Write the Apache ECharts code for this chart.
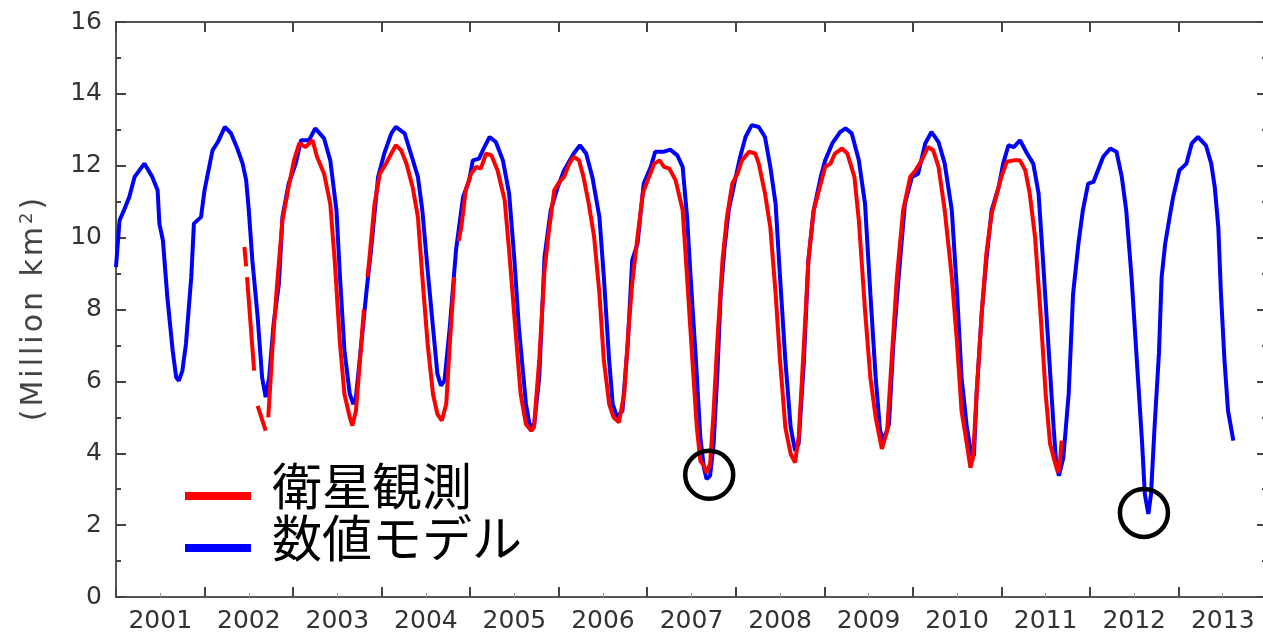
<!DOCTYPE html>
<html>
<head>
<meta charset="utf-8">
<title>海氷面積</title>
<script src="https://cdn.jsdelivr.net/npm/echarts@6/dist/echarts.min.js"></script>
<style>
  html, body { margin: 0; padding: 0; background: #fff; }
  #chart { width: 1263px; height: 636px; }
</style>
</head>
<body>
<div id="chart"></div>
<script>
// 数値モデル (blue)
const modelT = [
  2001.00, 2001.04, 2001.09, 2001.15, 2001.21, 2001.32, 2001.41, 2001.47, 2001.49, 2001.53,
  2001.58, 2001.64, 2001.68, 2001.71, 2001.75, 2001.79, 2001.85, 2001.88, 2001.96, 2002.00,
  2002.03, 2002.09, 2002.15, 2002.23, 2002.30, 2002.37, 2002.43, 2002.47, 2002.50, 2002.54,
  2002.60, 2002.65, 2002.69, 2002.73, 2002.78, 2002.84, 2002.88, 2002.95, 2003.03, 2003.09,
  2003.18, 2003.25, 2003.35, 2003.42, 2003.49, 2003.53, 2003.58, 2003.64, 2003.68, 2003.71,
  2003.77, 2003.83, 2003.88, 2003.96, 2004.03, 2004.11, 2004.16, 2004.26, 2004.33, 2004.41,
  2004.46, 2004.52, 2004.58, 2004.63, 2004.67, 2004.71, 2004.77, 2004.84, 2004.92, 2004.99,
  2005.03, 2005.10, 2005.16, 2005.22, 2005.29, 2005.37, 2005.44, 2005.50, 2005.55, 2005.63,
  2005.67, 2005.72, 2005.78, 2005.84, 2005.91, 2005.99, 2006.06, 2006.17, 2006.24, 2006.31,
  2006.38, 2006.46, 2006.51, 2006.57, 2006.61, 2006.66, 2006.72, 2006.78, 2006.83, 2006.89,
  2006.96, 2007.04, 2007.09, 2007.19, 2007.26, 2007.34, 2007.40, 2007.45, 2007.49, 2007.55,
  2007.60, 2007.64, 2007.67, 2007.71, 2007.75, 2007.79, 2007.83, 2007.87, 2007.92, 2008.00,
  2008.05, 2008.11, 2008.18, 2008.26, 2008.33, 2008.39, 2008.45, 2008.50, 2008.56, 2008.62,
  2008.67, 2008.71, 2008.77, 2008.82, 2008.88, 2008.96, 2009.01, 2009.09, 2009.18, 2009.24,
  2009.31, 2009.39, 2009.46, 2009.52, 2009.58, 2009.63, 2009.67, 2009.73, 2009.78, 2009.84,
  2009.91, 2009.99, 2010.06, 2010.14, 2010.21, 2010.29, 2010.36, 2010.44, 2010.50, 2010.55,
  2010.61, 2010.66, 2010.69, 2010.72, 2010.78, 2010.83, 2010.89, 2010.97, 2011.02, 2011.08,
  2011.14, 2011.21, 2011.29, 2011.36, 2011.42, 2011.47, 2011.53, 2011.59, 2011.62, 2011.65,
  2011.70, 2011.76, 2011.81, 2011.87, 2011.92, 2011.98, 2012.04, 2012.09, 2012.15, 2012.23,
  2012.30, 2012.36, 2012.41, 2012.47, 2012.53, 2012.59, 2012.62, 2012.66, 2012.69, 2012.73,
  2012.78, 2012.81, 2012.85, 2012.90, 2012.94, 2013.01, 2013.09, 2013.15, 2013.22, 2013.31,
  2013.37, 2013.41, 2013.45, 2013.48, 2013.52, 2013.56, 2013.62
];
const modelV = [
  9.18, 10.48, 10.76, 11.13, 11.69, 12.06, 11.69, 11.32, 10.39, 9.92,
  8.34, 6.86, 6.11, 6.02, 6.30, 7.04, 8.90, 10.39, 10.57, 11.32,
  11.69, 12.43, 12.66, 13.08, 12.90, 12.48, 12.06, 11.60, 10.76, 9.37,
  7.79, 6.11, 5.56, 6.11, 7.60, 8.72, 10.57, 11.50, 12.06, 12.71,
  12.71, 13.04, 12.76, 12.15, 10.76, 8.90, 6.86, 5.65, 5.37, 5.56,
  7.04, 8.53, 9.64, 11.69, 12.34, 12.90, 13.08, 12.90, 12.34, 11.69,
  10.76, 9.09, 7.51, 6.21, 5.88, 6.02, 7.51, 9.64, 11.13, 11.60,
  12.15, 12.20, 12.52, 12.80, 12.66, 12.15, 11.23, 9.37, 7.51, 5.37,
  4.81, 4.72, 6.11, 9.46, 10.76, 11.41, 11.87, 12.34, 12.57, 12.34,
  11.69, 10.57, 8.90, 6.58, 5.37, 5.00, 5.18, 7.04, 9.37, 9.83,
  11.50, 11.97, 12.39, 12.39, 12.45, 12.29, 11.97, 10.57, 8.90, 6.58,
  4.44, 3.60, 3.28, 3.37, 4.26, 6.11, 8.44, 9.64, 10.76, 11.69,
  12.25, 12.80, 13.13, 13.08, 12.80, 11.97, 10.94, 8.90, 6.58, 4.72,
  4.07, 4.26, 6.58, 9.37, 10.76, 11.69, 12.15, 12.62, 12.94, 13.04,
  12.90, 12.15, 10.94, 8.44, 6.11, 4.63, 4.35, 4.81, 7.04, 8.90,
  10.94, 11.69, 11.78, 12.62, 12.94, 12.66, 12.06, 10.76, 8.44, 6.11,
  4.72, 3.98, 3.93, 5.65, 7.97, 9.37, 10.76, 11.41, 12.06, 12.57,
  12.52, 12.71, 12.34, 12.06, 11.23, 9.37, 7.04, 4.72, 3.70, 3.37,
  3.88, 5.65, 8.44, 9.83, 10.76, 11.50, 11.55, 11.87, 12.25, 12.48,
  12.39, 11.69, 10.76, 8.90, 6.58, 4.26, 2.86, 2.31, 2.86, 4.72,
  6.80, 8.90, 9.83, 10.57, 11.13, 11.87, 12.06, 12.62, 12.80, 12.57,
  12.06, 11.41, 10.29, 8.44, 6.58, 5.18, 4.35
];

// 衛星観測 (red), null = gap in the record
const obsT = [
  2002.45, 2002.47, 2002.475, 2002.48, 2002.56, 2002.58, 2002.60, 2002.69, 2002.705, 2002.72,
  2002.77, 2002.82, 2002.88, 2002.95, 2003.01, 2003.07, 2003.14, 2003.22, 2003.27, 2003.35,
  2003.42, 2003.47, 2003.53, 2003.58, 2003.64, 2003.67, 2003.71, 2003.77, 2003.80, 2003.82,
  2003.84, 2003.86, 2003.92, 2003.98, 2004.05, 2004.11, 2004.16, 2004.22, 2004.28, 2004.35,
  2004.41, 2004.46, 2004.52, 2004.58, 2004.63, 2004.68, 2004.73, 2004.77, 2004.82, 2004.845,
  2004.87, 2004.90, 2004.95, 2005.01, 2005.07, 2005.12, 2005.18, 2005.24, 2005.31, 2005.39,
  2005.44, 2005.50, 2005.57, 2005.63, 2005.69, 2005.72, 2005.78, 2005.84, 2005.89, 2005.95,
  2006.01, 2006.06, 2006.12, 2006.17, 2006.23, 2006.28, 2006.34, 2006.40, 2006.46, 2006.51,
  2006.57, 2006.62, 2006.68, 2006.74, 2006.79, 2006.83, 2006.89, 2006.95, 2007.02, 2007.08,
  2007.14, 2007.19, 2007.25, 2007.32, 2007.40, 2007.45, 2007.51, 2007.56, 2007.60, 2007.64,
  2007.67, 2007.71, 2007.75, 2007.79, 2007.85, 2007.90, 2007.96, 2008.02, 2008.07, 2008.15,
  2008.22, 2008.26, 2008.33, 2008.39, 2008.45, 2008.50, 2008.56, 2008.62, 2008.67, 2008.71,
  2008.77, 2008.82, 2008.88, 2008.94, 2009.01, 2009.07, 2009.12, 2009.20, 2009.26, 2009.34,
  2009.39, 2009.46, 2009.52, 2009.58, 2009.65, 2009.71, 2009.76, 2009.82, 2009.89, 2009.97,
  2010.03, 2010.10, 2010.17, 2010.23, 2010.29, 2010.36, 2010.44, 2010.50, 2010.55, 2010.61,
  2010.65, 2010.68, 2010.72, 2010.78, 2010.83, 2010.89, 2010.95, 2011.00, 2011.06, 2011.14,
  2011.21, 2011.27, 2011.32, 2011.38, 2011.44, 2011.50, 2011.55, 2011.61, 2011.64, 2011.66,
  2011.68
];
const obsV = [
  9.74, 9.20, null, 8.90, 6.30, null, 5.32, 4.63, null, 5.00,
  7.04, 8.72, 10.48, 11.41, 12.15, 12.62, 12.52, 12.71, 12.25, 11.78,
  10.94, 9.37, 7.04, 5.65, 5.00, 4.77, 5.18, 7.04, 8.00, null,
  8.90, 9.37, 10.94, 11.78, 12.06, 12.34, 12.57, 12.43, 12.06, 11.41,
  10.57, 8.90, 7.04, 5.65, 5.09, 4.91, 5.37, 7.04, 8.90, null,
  9.90, 10.29, 11.32, 11.78, 11.97, 11.92, 12.34, 12.29, 11.87, 11.04,
  9.64, 7.79, 5.65, 4.81, 4.63, 4.72, 6.58, 9.09, 10.20, 11.32,
  11.55, 11.69, 12.06, 12.25, 12.15, 11.69, 10.94, 10.02, 8.44, 6.58,
  5.37, 5.00, 4.86, 5.65, 7.51, 8.72, 10.02, 11.23, 11.69, 12.06,
  12.15, 11.97, 11.92, 11.60, 10.76, 8.90, 6.58, 4.72, 3.79, 3.65,
  3.46, 3.70, 5.18, 7.04, 9.37, 10.57, 11.50, 11.78, 12.15, 12.39,
  12.34, 12.06, 11.23, 10.29, 8.44, 6.58, 4.72, 3.98, 3.74, 4.44,
  7.04, 9.37, 10.76, 11.32, 11.97, 12.06, 12.34, 12.48, 12.34, 11.69,
  10.48, 7.97, 6.11, 5.00, 4.12, 4.63, 6.58, 8.90, 10.76, 11.69,
  11.87, 12.15, 12.52, 12.43, 11.97, 10.76, 8.90, 7.04, 5.18, 4.26,
  3.60, 3.88, 5.65, 7.97, 9.55, 10.67, 11.23, 11.69, 12.11, 12.15,
  12.15, 11.87, 11.23, 10.02, 7.97, 5.65, 4.26, 3.70, 3.46, 3.70,
  4.35
];

// circled minima (2007, 2012)
const circleT = [2007.70, 2012.61];
const circleV = [3.40, 2.34];

const labelFont = 'DejaVu Sans';
const jpFont = '"Noto Sans CJK JP"';
const hs = '\u200A';

const chart = echarts.init(document.getElementById('chart'));

const tickAxis = {
  type: 'value',
  min: 2001,
  max: 2014,
  interval: 1,
  axisLine: { show: true, lineStyle: { color: '#555', width: 2 } },
  axisTick: { show: true, inside: true, length: 10, lineStyle: { color: '#444', width: 2 } },
  axisLabel: { show: false },
  splitLine: { show: false }
};

const option = {
  animation: false,
  backgroundColor: '#fff',
  grid: { left: 116, top: 22, width: 1151, height: 575, containLabel: false, outerBoundsMode: 'none' },
  legend: {
    data: ['衛星観測', '数値モデル'],
    orient: 'vertical',
    left: 185,
    top: 461,
    padding: 0,
    itemGap: -2,
    itemWidth: 66,
    itemHeight: 8,
    icon: 'rect',
    selectedMode: false,
    // second, empty line lifts the label a little above the colour bar
    formatter: name => '{t|' + name + '}\n{s| }',
    textStyle: {
      padding: [0, 0, 0, 16],
      rich: {
        t: { fontFamily: jpFont, fontSize: 50, lineHeight: 28, color: '#000' },
        s: { fontSize: 10, lineHeight: 20 }
      }
    }
  },
  xAxis: [
    Object.assign({}, tickAxis, {
      position: 'bottom',
      minorTick: { show: true, splitNumber: 2, length: 4, lineStyle: { color: '#999', width: 1 } }
    }),
    {
      type: 'value',
      position: 'bottom',
      min: 2001,
      max: 2014,
      interval: 0.5,
      axisLine: { show: false },
      axisTick: { show: false },
      splitLine: { show: false },
      axisLabel: {
        show: true,
        margin: 12,
        fontFamily: labelFont,
        fontSize: 25,
        color: '#333',
        formatter: v => (v % 1 !== 0 ? String(Math.floor(v)) : '')
      }
    },
    Object.assign({}, tickAxis, { position: 'top' })
  ],
  yAxis: [
    {
      type: 'value',
      position: 'left',
      min: 0,
      max: 16,
      interval: 2,
      name: ['(', 'M', 'i', 'l', 'l', 'i', 'o', 'n', ' ', 'k', 'm'].join(hs) + hs + '{sup|2}' + hs + ')',
      nameLocation: 'middle',
      nameGap: 66,
      nameTextStyle: {
        fontFamily: labelFont,
        fontSize: 30,
        color: '#444',
        rich: { sup: { fontFamily: labelFont, fontSize: 18, color: '#444', padding: [0, 0, 14, 0] } }
      },
      axisLine: { show: true, lineStyle: { color: '#555', width: 2 } },
      axisTick: { show: true, inside: true, length: 10, lineStyle: { color: '#444', width: 2 } },
      minorTick: { show: true, splitNumber: 2, length: 5, lineStyle: { color: '#444', width: 2 } },
      axisLabel: { margin: 14, fontFamily: labelFont, fontSize: 25, color: '#333' },
      splitLine: { show: false }
    },
    {
      type: 'value',
      position: 'right',
      min: 0,
      max: 16,
      interval: 2,
      axisLine: { show: true, lineStyle: { color: '#555', width: 2 } },
      axisTick: { show: true, inside: true, length: 10, lineStyle: { color: '#444', width: 2 } },
      minorTick: { show: true, splitNumber: 2, length: 5, lineStyle: { color: '#444', width: 2 } },
      axisLabel: { show: false },
      splitLine: { show: false }
    }
  ],
  series: [
    {
      name: '数値モデル',
      type: 'line',
      xAxisIndex: 0,
      yAxisIndex: 0,
      showSymbol: false,
      symbol: 'none',
      lineStyle: { color: '#0000ff', width: 4 },
      itemStyle: { color: '#0000ff' },
      data: modelT.map((t, i) => [t, modelV[i]])
    },
    {
      name: '衛星観測',
      type: 'line',
      xAxisIndex: 0,
      yAxisIndex: 0,
      showSymbol: false,
      symbol: 'none',
      connectNulls: false,
      lineStyle: { color: '#ff0000', width: 4 },
      itemStyle: { color: '#ff0000' },
      data: obsT.map((t, i) => [t, obsV[i] === null ? '-' : obsV[i]])
    },
    {
      name: 'circle',
      type: 'scatter',
      xAxisIndex: 0,
      yAxisIndex: 0,
      silent: true,
      symbol: 'circle',
      symbolSize: 48,
      itemStyle: { color: 'rgba(0,0,0,0)', borderColor: '#000', borderWidth: 4.5, opacity: 1 },
      z: 5,
      data: circleT.map((t, i) => [t, circleV[i]])
    }
  ]
};

chart.setOption(option);
window.addEventListener('resize', () => chart.resize());
</script>
</body>
</html>
